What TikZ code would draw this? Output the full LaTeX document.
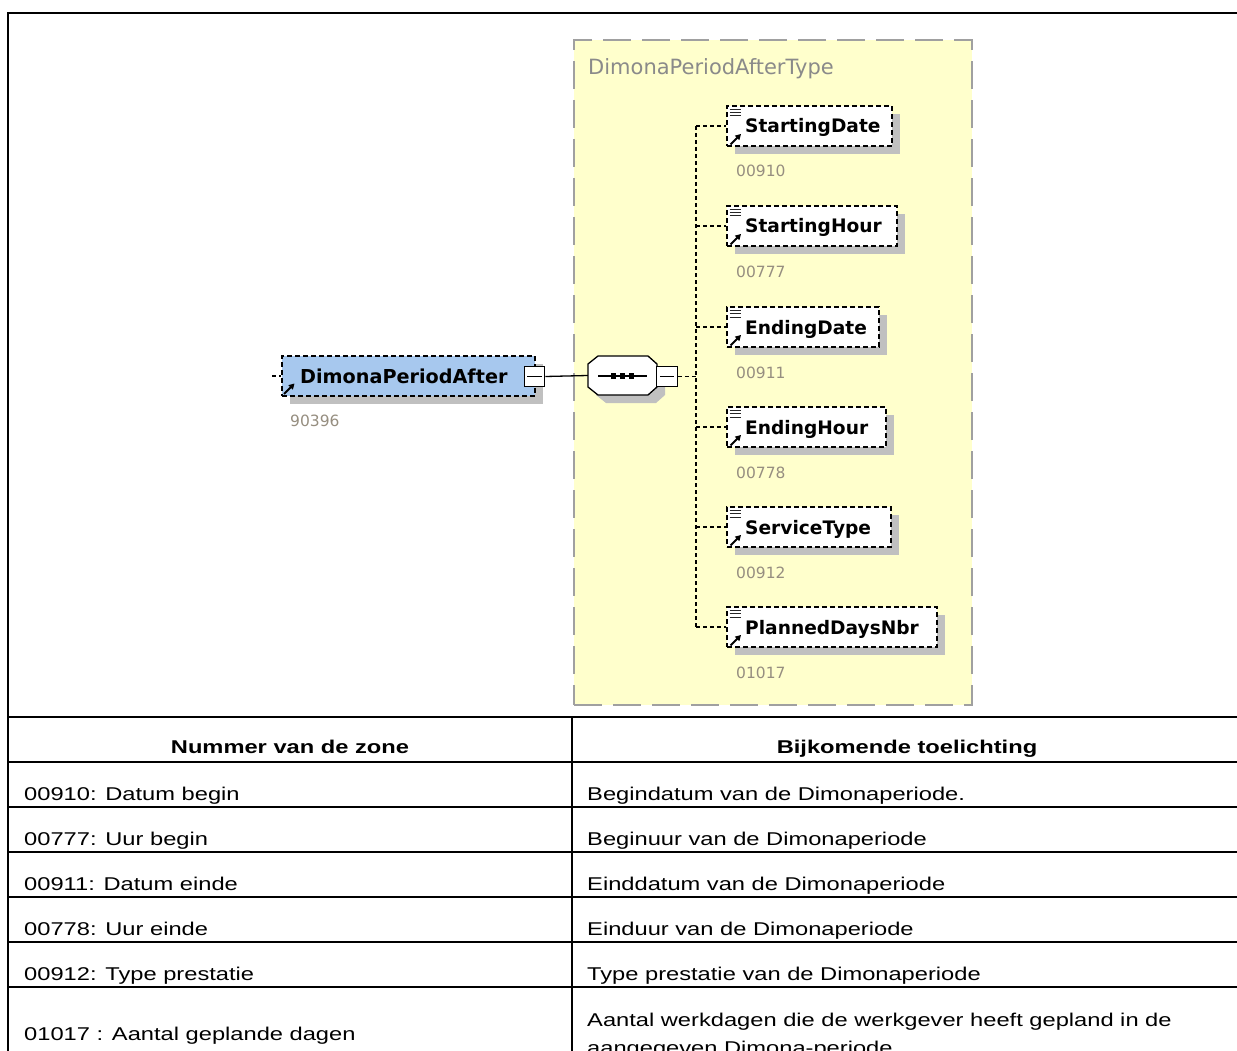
\documentclass[tikz,border=0pt]{standalone}
\usepackage{fontspec}
\usetikzlibrary{shadows,arrows.meta}
\newfontfamily\tabfont{Liberation Sans}[FakeStretch=1.28]
\newfontfamily\xsdfont{DejaVu Sans}
\definecolor{rootblue}{RGB}{167,200,238}
\definecolor{shadowgray}{RGB}{192,192,192}
\definecolor{typeyellow}{RGB}{255,255,204}
\definecolor{typeborder}{RGB}{160,160,160}
\definecolor{titlegray}{RGB}{138,138,138}
\definecolor{idgray}{RGB}{150,142,128}
\begin{document}
\begin{tikzpicture}[x=1pt,y=-1pt,
  elbox/.style={draw=black, line width=1.4pt, dash pattern=on 5pt off 3pt, fill=white,
    minimum height=40pt, inner sep=0pt,
    drop shadow={shadow xshift=8pt, shadow yshift=-8pt, fill=shadowgray, opacity=1}},
  rootstyle/.style={elbox, fill=rootblue, minimum width=253pt},
  elname/.style={anchor=base west, inner sep=0pt, font=\xsdfont\bfseries\fontsize{18.6}{22}\selectfont, text=black},
  elid/.style={anchor=base west, inner sep=0pt, font=\xsdfont\fontsize{15.5}{18}\selectfont, text=idgray},
  minusbox/.style={draw=black, fill=white, line width=1.3pt, minimum size=20.5pt, inner sep=0pt,
    path picture={\draw[line width=1.3pt] ([xshift=3pt]path picture bounding box.west) -- ([xshift=-3pt]path picture bounding box.east);}},
  conn/.style={line width=1.3pt, dash pattern=on 4pt off 3pt},
  solidconn/.style={line width=1.3pt},
  typestyle/.style={draw=typeborder, fill=typeyellow, line width=1.8pt, dash pattern=on 28pt off 11pt, inner sep=0pt},
  tabline/.style={line width=2pt},
  tabtext/.style={anchor=base west, inner sep=0pt, font=\tabfont\fontsize{18.5}{22}\selectfont},
  tabhead/.style={anchor=base, inner sep=0pt, font=\tabfont\bfseries\fontsize{18.5}{22}\selectfont},
  iconarrow/.style={line width=2pt, -{Triangle[length=5.5pt,width=6pt]}},
  iconlines/.style={line width=1pt, black!85},
]
\useasboundingbox (0,0) rectangle (1237,1051);
\fill[white] (0,0) rectangle (1237,1051);

% ---- type box ----
\node[typestyle, minimum width=398pt, minimum height=665pt] (typebox) at (773,372.5) {};
\node[anchor=base west, inner sep=0pt, font=\xsdfont\fontsize{21}{24}\selectfont, text=titlegray] (typetitle) at (588,75) {DimonaPeriodAfterType};

% ---- root element ----
\node[rootstyle] (rootbox) at (408.5,376) {};
\node[elname, font=\xsdfont\bfseries\fontsize{19.2}{22}\selectfont] (roottext) at (300,383) {DimonaPeriodAfter};
\node[elid] (rootid) at (290,426) {90396};
\draw[iconarrow] (284,394) -- (294.5,383.5);
\coordinate (rootstub) at (272,376);
\draw[conn] (rootstub) -- (rootbox.west);
\node[minusbox] (rootm) at (534.5,376.5) {};

% ---- sequence compositor ----
\node[minimum width=69pt, minimum height=39pt, inner sep=0pt] (seq) at (622.5,375.5) {};
\fill[shadowgray, shift={(8,8)}] (598,356) -- (648,356) -- (657,364) -- (657,387) -- (648,395) -- (598,395) -- (588,387) -- (588,364) -- cycle;
\draw[fill=white, line width=1.3pt] (598,356) -- (648,356) -- (657,364) -- (657,387) -- (648,395) -- (598,395) -- (588,387) -- (588,364) -- cycle;
\draw[line width=1.3pt] (598,376) -- (647,376);
\foreach \sx in {613.5,622.5,631.5} \fill (\sx-2.6,373.4) rectangle (\sx+2.6,378.6);
\node[minusbox] (seqm) at (667,376.5) {};
\draw[solidconn] (rootm.east) -- (seq.west);

% ---- spine ----
\coordinate (spM) at (696,376.5);
\draw[conn] (seqm.east) -- (spM);
\coordinate (sp1) at (696,126);
\coordinate (sp2) at (696,226);
\coordinate (sp3) at (696,327);
\coordinate (sp4) at (696,427);
\coordinate (sp5) at (696,527);
\coordinate (sp6) at (696,627);
\draw[conn] (sp1) -- (sp6);

% ---- children ----
\foreach \i/\cx/\cy/\w/\name/\num in {
  1/809.5/126/165/StartingDate/00910,
  2/812/226/170/StartingHour/00777,
  3/803/327/152/EndingDate/00911,
  4/806.5/427/159/EndingHour/00778,
  5/809/527/164/ServiceType/00912,
  6/832/627/210/PlannedDaysNbr/01017}{
  \node[elbox, minimum width=\w pt] (c\i) at (\cx,\cy) {};
  \draw[conn] (sp\i) -- (c\i.west);
  \node[elname] (t\i) at (745,\cy+7) {\name};
  \node[elid] (n\i) at (736,\cy+51) {\num};
  \foreach \d in {3.3,6.7,10} \draw[iconlines] (729.5,\cy-20+\d) -- (740.5,\cy-20+\d);
  \draw[iconarrow] (730.5,\cy+18.5) -- (741,\cy+8);
}

% ---- table ----
\draw[line width=2.4pt] (8,1060) -- (8,13) -- (1240,13);
\foreach \ty in {717,762,807,852,897,942,987} \draw[tabline] (8,\ty) -- (1240,\ty);
\draw[tabline] (572,717) -- (572,1060);

\node[tabhead] (h1) at (290,753) {Nummer van de zone};
\node[tabhead] (h2) at (907,753) {Bijkomende toelichting};

\node[tabtext] (l1) at (24,800) {00910: Datum begin};
\node[tabtext] (r1) at (587,800) {Begindatum van de Dimonaperiode.};
\node[tabtext] (l2) at (24,845) {00777: Uur begin};
\node[tabtext] (r2) at (587,845) {Beginuur van de Dimonaperiode};
\node[tabtext] (l3) at (24,890) {00911: Datum einde};
\node[tabtext] (r3) at (587,890) {Einddatum van de Dimonaperiode};
\node[tabtext] (l4) at (24,935) {00778: Uur einde};
\node[tabtext] (r4) at (587,935) {Einduur van de Dimonaperiode};
\node[tabtext] (l5) at (24,980) {00912: Type prestatie};
\node[tabtext] (r5) at (587,980) {Type prestatie van de Dimonaperiode};
\node[tabtext] (l6) at (24,1040) {01017 : Aantal geplande dagen};
\node[tabtext] (r6a) at (587,1026) {Aantal werkdagen die de werkgever heeft gepland in de};
\node[tabtext] (r6b) at (587,1054) {aangegeven Dimona-periode.};
\end{tikzpicture}
\end{document}
